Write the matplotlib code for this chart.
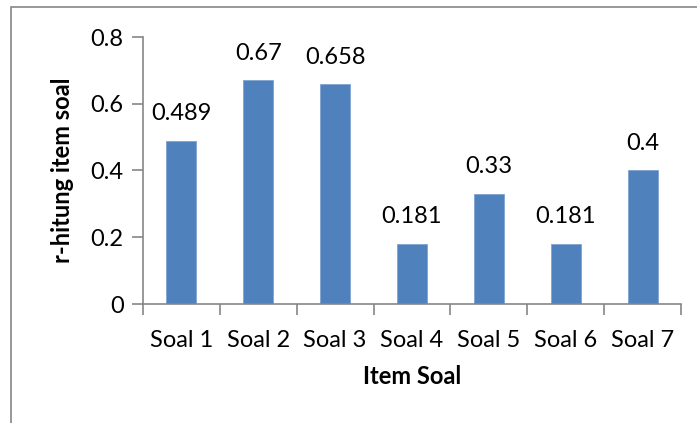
import matplotlib
matplotlib.use("Agg")
import matplotlib.pyplot as plt
from matplotlib.patches import Rectangle

categories = ["Soal 1", "Soal 2", "Soal 3", "Soal 4", "Soal 5", "Soal 6", "Soal 7"]
values = [0.489, 0.67, 0.658, 0.181, 0.33, 0.181, 0.4]
labels = ["0.489", "0.67", "0.658", "0.181", "0.33", "0.181", "0.4"]
yticks = [0, 0.2, 0.4, 0.6, 0.8]
ytick_labels = ["0", "0.2", "0.4", "0.6", "0.8"]

plt.rcParams['font.family'] = ['Lato', 'DejaVu Sans']
W, H = 697, 423
fs = 17
fig = plt.figure(figsize=(W/100, H/100), dpi=100)
ax = fig.add_axes([143/W, 1-304/H, (681-143)/W, (304-37)/H])

gray = "#868686"
fig.patches.append(Rectangle((10.5/W, -0.1), 1.2, (1-7/H)+0.1, transform=fig.transFigure,
                             fill=False, edgecolor=gray, linewidth=1.2, zorder=0))

x = range(len(categories))
ax.bar(x, values, width=0.39, color="#4F81BD", edgecolor="#7FA3CF", linewidth=0.6, zorder=2)
ax.set_xlim(-0.5, len(categories)-0.5)
ax.set_ylim(0, 0.8)
ax.set_yticks(yticks)
ax.set_yticklabels(ytick_labels)
ax.set_xticks([i - 0.5 for i in range(len(categories)+1)])
ax.set_xticklabels([])
ax.set_xticks(list(x), minor=True)
ax.set_xticklabels(categories, minor=True)
ax.tick_params(axis='x', which='minor', length=0, pad=19, labelsize=fs)
ax.tick_params(axis='x', which='major', length=8, direction='out', color=gray, width=1.2)
ax.tick_params(axis='y', length=8, direction='out', color=gray, width=1.2, labelsize=fs, pad=6)

for s in ['top', 'right']:
    ax.spines[s].set_visible(False)
for s in ['left', 'bottom']:
    ax.spines[s].set_color(gray)
    ax.spines[s].set_linewidth(1.2)

for i, (v, l) in enumerate(zip(values, labels)):
    ax.annotate(l, (i, v), xytext=(0, 12), textcoords='offset points', ha='center', va='bottom', fontsize=fs)

ax.set_ylabel("r-hitung item soal", fontsize=fs, fontweight='bold', labelpad=12)
ax.set_xlabel("Item Soal", fontsize=fs, fontweight='bold', labelpad=10)

fig.savefig("out.png", dpi=100)
